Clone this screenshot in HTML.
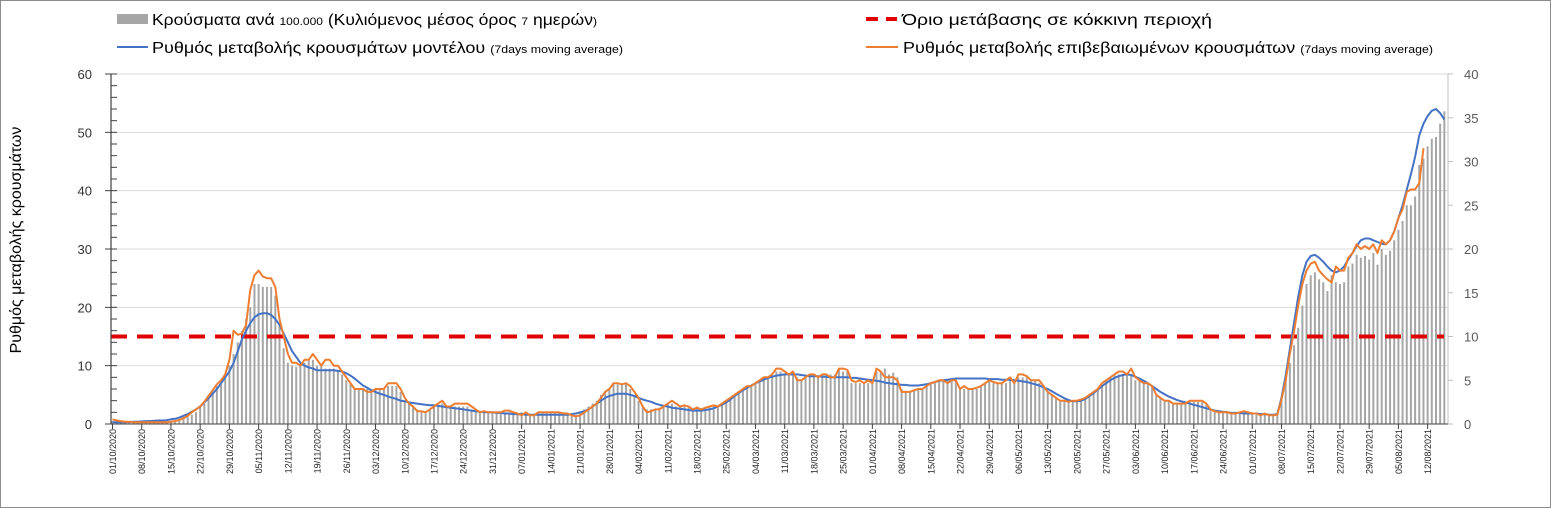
<!DOCTYPE html>
<html><head><meta charset="utf-8">
<style>
html,body{margin:0;padding:0;background:#fff;}
body{width:1551px;height:508px;overflow:hidden;}
svg{display:block;font-family:"Liberation Sans Narrow","Liberation Sans","DejaVu Sans",sans-serif;}
</style></head>
<body>
<svg id="chart" width="1551" height="508" viewBox="0 0 1551 508" xmlns="http://www.w3.org/2000/svg">
<rect x="0.5" y="0.5" width="1550" height="507" fill="#fff" stroke="#8c8c8c" stroke-width="1"/>
<g id="grid"></g>
<g id="bars"></g>
<line id="thr" x1="111" x2="1444" stroke="#e00000" stroke-width="4" stroke-dasharray="16,10"/>
<g id="lines"></g>
<g id="axes"></g>
<text transform="translate(21,240) rotate(-90)" text-anchor="middle" font-size="16" fill="#000" font-family="Liberation Sans, DejaVu Sans, sans-serif">Ρυθμός μεταβολής κρουσμάτων</text>
<g>
  <rect x="117" y="14" width="31" height="10" fill="#a6a6a6"/>
  <text x="152" y="25" font-size="16" textLength="445" lengthAdjust="spacingAndGlyphs">Κρούσματα ανά <tspan font-size="11">100.000</tspan> (Κυλιόμενος μέσος όρος <tspan font-size="11">7</tspan> ημερών<tspan font-size="11">)</tspan></text>
  <line x1="117" x2="148" y1="47" y2="47" stroke="#4472c4" stroke-width="2"/>
  <text x="152" y="53" font-size="16" textLength="471" lengthAdjust="spacingAndGlyphs">Ρυθμός μεταβολής κρουσμάτων μοντέλου <tspan font-size="11">(7days moving average)</tspan></text>
  <line x1="866" x2="897" y1="19" y2="19" stroke="#e00000" stroke-width="4" stroke-dasharray="12,8"/>
  <text x="902" y="25" font-size="16" textLength="310" lengthAdjust="spacingAndGlyphs">Όριο μετάβασης σε κόκκινη περιοχή</text>
  <line x1="866" x2="898" y1="47" y2="47" stroke="#ed7d31" stroke-width="2"/>
  <text x="903" y="53" font-size="16" textLength="530" lengthAdjust="spacingAndGlyphs">Ρυθμός μεταβολής επιβεβαιωμένων κρουσμάτων <tspan font-size="11">(7days moving average)</tspan></text>
</g>
</svg>
<script>
const startDate = [2020, 10, 1];
const barValues = [
0.5,0.5,0.5,0.4,0.4,0.3,0.3, 0.3,0.3,0.3,0.3,0.3,0.4,0.4, 0.5,0.6,0.8,1,1.3,1.6,2,
3,3.5,4.5,5.5,6.5,7,8, 10,12,14,16,18,20,24, 24,23.5,23.5,23.5,22,17,13,
10.5,10,9.8,10,10.5,11,11, 10,10,9.5,9.5,9.5,9,8.5, 7.5,7,6,6,6,6,6,
6,6,6,6.5,6.5,6.5,5.5, 4,3.5,3,2.5,2,2,2.5, 3,3,3.5,3,3,3,3,
3,3,2.5,2.3,2,2,2, 2,2,2,2,2,1.8,1.8, 2,2,1.8,1.8,2,2,2,
2,2,2,2,1.8,1.6,1.5, 2,2.5,3,3.5,4,5,5.5, 6,7,6.8,6.8,7,6,5,
4,3,2.5,2.5,2.5,2.8,3, 3.5,3.5,3,3,3,2.8,2.5, 3,2.5,2.8,3,3,3,3.5,
4,4.5,5,5.5,6,6.5,6.5, 7,7.5,8,8,8.5,9,9, 8.5,8.5,9,8,7.5,8,8.5,
8.5,8,8.5,8.5,8.5,8.5,9.5, 9,9,7,7,7,6.8,7, 7,9,9,9.5,8.5,8.8,8,
6,5.5,5.5,5.8,6,6,6.5, 7,7,7.5,7.5,7.5,7.5,7.5, 6,6,6,6,6,6.5,7,
7.5,7,7,7,7,7.5,7, 8,8,8,7.5,7.5,7,6.5, 5.5,5,4.5,4,4,4,4,
4,4,4.5,5,5.5,6,6.5, 7.5,8,8.5,8.5,8.5,8.5,8.5, 7.5,7.5,7,7,6.5,5,4.5,
4,4,3.5,3.5,3.5,3.5,4, 3.8,3.8,3.8,3.5,2.5,2.2,2, 2,2,1.8,1.8,2,2,2,
1.8,1.6,1.5,1.6,1.5,1.5,1.7,
4.5,7.5,10.5,13.5,16.5,20.3,24, 25.5,26,24.8,24.3,22.8,25.5,24.3,
24,24.3,27,27.5,29,28.5,28.8, 28.2,29.3,27.3,30,29,29.7,31.5,
33.3,34.8,37.5,37.5,39,44.4,45.5, 47.6,48.9,49.2,51.5,53.6
];
const modelValues = [
0.3,0.3,0.3,0.3,0.35,0.4,0.4, 0.45,0.5,0.5,0.55,0.6,0.6,0.65, 0.8,0.9,1.1,1.4,1.7,2.1,2.5,
3,3.7,4.4,5.2,6,7,8, 9,10.5,12.5,14.5,16,17.3,18.3, 18.8,19,19,18.7,18,17,15.5,
14,12.5,11.5,10.5,10,9.7,9.5, 9.2,9.2,9.2,9.2,9.2,9.1,9, 8.7,8.3,7.8,7.2,6.6,6.2,5.8,
5.5,5.2,5,4.7,4.5,4.3,4, 3.9,3.7,3.6,3.5,3.4,3.3,3.2, 3.2,3.1,3,2.9,2.8,2.7,2.6,
2.5,2.4,2.3,2.2,2.1,2,2, 2,1.9,1.9,1.8,1.8,1.7,1.7, 1.7,1.6,1.6,1.6,1.6,1.6,1.6,
1.6,1.6,1.6,1.6,1.6,1.7,1.8, 2,2.2,2.5,3,3.5,4,4.5, 4.8,5,5.2,5.2,5.2,5,4.8,
4.5,4.2,4,3.8,3.5,3.3,3.1, 3,2.8,2.7,2.6,2.5,2.4,2.3, 2.3,2.3,2.4,2.5,2.7,3,3.3,
3.7,4.2,4.8,5.3,5.8,6.2,6.6, 7,7.3,7.6,7.9,8.1,8.3,8.4, 8.5,8.5,8.5,8.5,8.4,8.3,8.2,
8.2,8.2,8.1,8.1,8,8,8, 8,8,7.9,7.9,7.8,7.7,7.6, 7.5,7.4,7.3,7.1,7,6.9,6.8,
6.7,6.7,6.6,6.6,6.6,6.7,6.8, 7,7.2,7.4,7.5,7.6,7.7,7.8, 7.8,7.8,7.8,7.8,7.8,7.8,7.8,
7.7,7.7,7.7,7.6,7.6,7.6,7.5, 7.4,7.3,7.2,7,6.8,6.6,6.3, 6,5.6,5.2,4.8,4.4,4.1,3.9,
3.9,4,4.3,4.8,5.3,5.9,6.5, 7,7.5,7.9,8.2,8.4,8.5,8.4, 8.1,7.8,7.4,7,6.5,6,5.5,
5.1,4.7,4.4,4.1,3.9,3.7,3.5, 3.3,3.1,2.9,2.7,2.5,2.3,2.2, 2.1,2,1.9,1.9,1.9,1.8,1.8,
1.8,1.8,1.7,1.7,1.6,1.6,1.7,
4.5,8.3,12.8,17.3,21.8,25.5,27.8, 28.8,29,28.5,27.8,27,26.3,26,
26.3,27,28.2,29.3,30.5,31.5,31.8, 31.8,31.5,31.2,30.9,30.8,31.5,33,
35.3,37.5,40.2,42.8,45.8,49.5,51.5, 52.8,53.7,54,53.3,52.2
];
const confirmedValues = [
0.8,0.6,0.5,0.4,0.4,0.3,0.3, 0.3,0.3,0.3,0.3,0.3,0.3,0.3, 0.4,0.5,0.7,1,1.4,2,2.5,
3,3.8,4.8,5.8,6.8,7.5,8.5, 11,16,15.3,15.5,17,23,25.5, 26.3,25.3,25,25,23.5,18,15,
12,10.5,10.5,10,11,11,12, 11,10,11,11,10,10,9, 8,7,6,6,6,5.5,5.5,
6,6,6,7,7,7,6, 4.5,3.5,3,2.2,2.2,2,2.5, 3,3.5,4,3,3,3.5,3.5,
3.5,3.5,3,2.5,2,2.2,2, 2,2,2,2.3,2.3,2,1.8, 1.5,2,1.5,1.5,2,2,2,
2,2,2,1.8,1.8,1.5,1.3, 1.5,2,2.5,3,3.5,4.5,5.5, 6,7,7,6.8,7,6.5,5.5,
4.5,3,2,2.2,2.5,2.5,3, 3.5,4,3.5,3,3.2,3,2.5, 2.8,2.5,2.8,3,3.2,3,3.5,
4,4.5,5,5.5,6,6.5,6.5, 7,7.5,8,8,8.5,9.5,9.5, 9,8.5,9,7.5,7.5,8,8.5,
8.5,8,8.5,8.5,8,8,9.5, 9.5,9.3,7.5,7.2,7.5,7,7.5, 7,9.5,9,8,8,8,7.5,
5.5,5.5,5.5,5.8,6,6,6.5, 7,7.2,7.5,7.5,7,7.5,7.5, 6,6.5,6,6,6.2,6.5,7,
7.5,7.2,7,7,7.5,8,7, 8.5,8.5,8.2,7.5,7.5,7.5,6.5, 5.5,5,4.5,4,4,3.8,4,
4,4.2,4.5,5,5.5,6,7, 7.5,8,8.5,9,9,8.5,9.5, 8,7.5,7,7,6.5,5,4.5,
4,4,3.5,3.5,3.5,3.5,4, 4,4,4,3.5,2.5,2.2,2, 2,2,1.8,1.8,2,2.2,2,
1.8,1.8,1.5,1.8,1.5,1.5,1.6,
4.2,7.5,12,15.8,20.3,24,26.3, 27.5,27.8,26.3,25.5,24.8,24.3,27,
26.3,26.3,28.5,29.3,30.8,30,30.5, 30,30.8,29.3,31.5,30.8,31.5,33,
35.3,36.8,39.8,40.2,40.2,41.3,47.3
];
const thresholdValue = 15;
const leftTicks = [0,10,20,30,40,50,60];
const rightTicks = [0,5,10,15,20,25,30,35,40];

const NS = "http://www.w3.org/2000/svg";
const X0 = 111, DAY = 4.175, Y0 = 424, Y1 = 74, LMAX = 60, RMAX = 40, XR = 1448;
function xScale(i){ return X0 + 1.5 + i*DAY; }
function yLeft(v){ return Y0 - v/LMAX*(Y0-Y1); }
function yRight(v){ return Y0 - v/RMAX*(Y0-Y1); }
function mk(tag, attrs, parent){ const e=document.createElementNS(NS,tag); for(const k in attrs) e.setAttribute(k,attrs[k]); parent.appendChild(e); return e; }

const grid=document.getElementById('grid'), bars=document.getElementById('bars'), lines=document.getElementById('lines'), axes=document.getElementById('axes');
leftTicks.forEach(t=>{
  if(t===0) return;
  const g=mk('line',{x1:X0,x2:XR,y1:yLeft(t),y2:yLeft(t),stroke:'#d9d9d9','stroke-width':1},grid);
  
  
});
barValues.forEach((v,i)=>{
  const r=mk('rect',{x:xScale(i)-1,y:yLeft(v),width:2,height:Y0-yLeft(v),fill:'#a6a6a6'},bars);
  
  
});
const thr=document.getElementById('thr');
thr.setAttribute('y1',yLeft(thresholdValue)); thr.setAttribute('y2',yLeft(thresholdValue));
function path(vals,color,name){
  const d=vals.map((v,i)=>(i?'L':'M')+xScale(i).toFixed(1)+','+yLeft(v).toFixed(1)).join('');
  const p=mk('path',{d:d,fill:'none',stroke:color,'stroke-width':2,'stroke-linejoin':'round'},lines);
  
  
}
path(modelValues,'#4472c4','model-rate-line');
path(confirmedValues,'#ed7d31','confirmed-rate-line');

const la=mk('line',{x1:X0,x2:X0,y1:Y1,y2:Y0,stroke:'#404040','stroke-width':1.2},axes);


for(let v=0; v<=LMAX; v+=2){
  const major = v%10===0;
  mk('line',{x1:major?X0-6:X0,x2:X0+6,y1:yLeft(v),y2:yLeft(v),stroke:'#404040','stroke-width':1},axes);
}
leftTicks.forEach(t=>{
  const tx=mk('text',{x:92,y:yLeft(t)+5,'text-anchor':'end','font-size':13,fill:'#333','font-family':'Liberation Sans, sans-serif'},axes);
  tx.textContent=t;
  
  
});
const ra=mk('line',{x1:XR,x2:XR,y1:Y1,y2:Y0,stroke:'#bfbfbf','stroke-width':1},axes);


rightTicks.forEach(t=>{
  mk('line',{x1:XR,x2:XR+5,y1:yRight(t),y2:yRight(t),stroke:'#bfbfbf','stroke-width':1},axes);
  const tx=mk('text',{x:1464,y:yRight(t)+5,'font-size':13,fill:'#595959','font-family':'Liberation Sans, sans-serif'},axes);
  tx.textContent=t;
  
  
});
const xa=mk('line',{x1:X0,x2:XR,y1:Y0,y2:Y0,stroke:'#404040','stroke-width':1},axes);


const sd=new Date(startDate[0],startDate[1]-1,startDate[2],12);
function pad(n){return (n<10?'0':'')+n;}
for(let i=0;i<barValues.length;i+=7){
  const d=new Date(sd.getTime()+i*86400000);
  const lbl=pad(d.getDate())+'/'+pad(d.getMonth()+1)+'/'+d.getFullYear();
  const x=xScale(i);
  mk('line',{x1:x,x2:x,y1:Y0,y2:Y0+5,stroke:'#404040','stroke-width':1},axes);
  const tx=mk('text',{transform:'translate('+(x+3.5)+','+(Y0+5)+') rotate(-90)','text-anchor':'end','font-size':9,fill:'#222','font-family':'Liberation Sans, sans-serif'},axes);
  tx.textContent=lbl;
  
  
}
</script>
</body></html>
